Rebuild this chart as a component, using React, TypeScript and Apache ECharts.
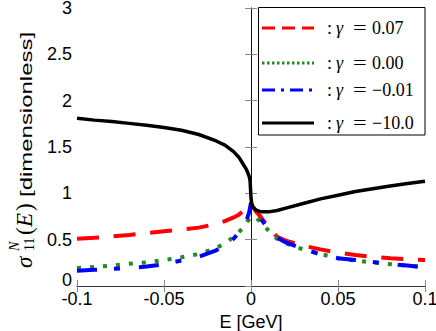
import React, { useEffect, useRef } from "react";
import * as echarts from "echarts";

// Energy grid [GeV]
const E = [-0.1, -0.09, -0.08, -0.07, -0.06, -0.05, -0.04, -0.03, -0.02, -0.015, -0.01, -0.007, -0.005, -0.003, -0.002, -0.001, -0.0005, 0, 0.0005, 0.001, 0.002, 0.003, 0.005, 0.007, 0.01, 0.015, 0.02, 0.03, 0.04, 0.05, 0.06, 0.07, 0.08, 0.09, 0.1];

// sigma_11^N(E) for each gamma
const sigmaG007 = [0.51, 0.52, 0.535, 0.55, 0.57, 0.59, 0.61, 0.63, 0.67, 0.70, 0.74, 0.77, 0.80, 0.83, 0.85, 0.87, 0.88, 0.89, 0.87, 0.86, 0.83, 0.80, 0.76, 0.71, 0.64, 0.53, 0.49, 0.435, 0.395, 0.36, 0.335, 0.315, 0.30, 0.29, 0.28];
const sigmaG000 = [0.195, 0.205, 0.22, 0.24, 0.255, 0.28, 0.31, 0.345, 0.41, 0.46, 0.53, 0.58, 0.62, 0.67, 0.70, 0.72, 0.735, 0.745, 0.75, 0.75, 0.745, 0.735, 0.70, 0.66, 0.60, 0.51, 0.46, 0.395, 0.345, 0.30, 0.275, 0.255, 0.235, 0.22, 0.21];
const sigmaGm001 = [0.165, 0.175, 0.185, 0.195, 0.21, 0.235, 0.275, 0.315, 0.385, 0.44, 0.51, 0.58, 0.63, 0.69, 0.74, 0.80, 0.85, 0.90, 0.87, 0.85, 0.82, 0.79, 0.74, 0.69, 0.61, 0.52, 0.47, 0.40, 0.34, 0.30, 0.28, 0.26, 0.235, 0.22, 0.20];
const sigmaGm10 = [1.81, 1.79, 1.775, 1.755, 1.735, 1.71, 1.68, 1.635, 1.565, 1.52, 1.45, 1.39, 1.33, 1.27, 1.23, 1.18, 1.13, 0.95, 0.88, 0.855, 0.835, 0.82, 0.805, 0.80, 0.80, 0.815, 0.84, 0.89, 0.94, 0.98, 1.02, 1.05, 1.08, 1.105, 1.13];

const gammaLabels = ["0.07", "0.00", "\u22120.01", "\u221210.0"];
const xTicks = [-0.1, -0.05, 0, 0.05, 0.1];
const yTicks = [0, 0.5, 1, 1.5, 2, 2.5, 3];

const SANS = "'Liberation Sans', Arial, sans-serif";
const SERIF = "'Liberation Serif', 'Times New Roman', serif";

export default function App() {
  const ref = useRef<HTMLDivElement>(null);
  useEffect(() => {
    if (!ref.current) return;
    const chart = echarts.init(ref.current, null, { renderer: "svg" });

    const colors = ["#ff0000", "#228b22", "#0000ff", "#000000"];
    const seriesData = [sigmaG007, sigmaG000, sigmaGm001, sigmaGm10];
    const mainDash: any[] = [[22, 14.7], [4, 9], [20, 17, 6, 19], "solid"];
    const mainWidth = [4, 4, 4, 3.5];
    const legDash: any[] = [[13, 7], [2.5, 2.5], [13, 6, 3, 6], "solid"];
    const legY = [28, 63, 90, 123];

    const legendChildren: any[] = [
      {
        type: "rect",
        shape: { x: 258.5, y: 7.5, width: 166.5, height: 127.5 },
        style: { fill: "#fff", stroke: "#000", lineWidth: 1 },
      },
    ];
    legY.forEach((y, i) => {
      legendChildren.push({
        type: "line",
        shape: { x1: 262, y1: y, x2: 314, y2: y },
        style: { stroke: colors[i], lineWidth: 3, lineDash: legDash[i] === "solid" ? null : legDash[i] },
      });
      legendChildren.push({
        type: "text", x: 327, y,
        style: { text: ":", fontSize: 18, fontFamily: SERIF, fill: "#000", verticalAlign: "middle" },
      });
      legendChildren.push({
        type: "text", x: 336, y,
        style: { text: "\u03b3", fontSize: 18, fontStyle: "italic", fontFamily: SERIF, fill: "#000", verticalAlign: "middle" },
      });
      legendChildren.push({
        type: "text", x: 353, y, scaleX: 1.35,
        style: { text: "=", fontSize: 18, fontFamily: SERIF, fill: "#000", verticalAlign: "middle" },
      });
      legendChildren.push({
        type: "text", x: 372, y,
        style: { text: gammaLabels[i], fontSize: 18, fontFamily: SERIF, fill: "#000", verticalAlign: "middle" },
      });
    });

    const yLabel = {
      type: "group",
      x: 32,
      y: 268,
      rotation: Math.PI / 2,
      children: [
        { type: "text", x: 0, y: -7.5, style: { text: "\u03c3", fontSize: 23, fontStyle: "italic", fontFamily: SERIF, fill: "#000", verticalAlign: "middle" } },
        { type: "text", x: 17, y: -18, style: { text: "N", fontSize: 14, fontStyle: "italic", fontFamily: SERIF, fill: "#000", verticalAlign: "middle" } },
        { type: "text", x: 17, y: -3, style: { text: "11", fontSize: 14, fontFamily: SERIF, fill: "#000", verticalAlign: "middle" } },
        { type: "text", x: 33, y: -7.5, style: { text: "(", fontSize: 23, fontFamily: SERIF, fill: "#000", verticalAlign: "middle" } },
        { type: "text", x: 41, y: -7.5, style: { text: "E", fontSize: 23, fontStyle: "italic", fontFamily: SERIF, fill: "#000", verticalAlign: "middle" } },
        { type: "text", x: 57, y: -7.5, style: { text: ")", fontSize: 23, fontFamily: SERIF, fill: "#000", verticalAlign: "middle" } },
        { type: "text", x: 71, y: -6, scaleX: 1.41, style: { text: "[dimensionless]", fontSize: 17, fontFamily: SANS, fill: "#000", verticalAlign: "middle" } },
      ],
    };

    // y-axis "0" label, lifted slightly above its tick as in the reference
    const yZeroLabel = {
      type: "text",
      x: 72,
      y: 280,
      style: { text: String(yTicks[0]), fontSize: 18, lineHeight: 14, fontFamily: SANS, fill: "#000", align: "right", verticalAlign: "middle" },
    };

    const tickStyle = { show: true, inside: true, length: 6, lineStyle: { color: "#888", width: 1 } };

    chart.setOption({
      animation: false,
      grid: { left: 77, right: 11, top: 8, bottom: 45, containLabel: false, outerBoundsMode: "none" },
      xAxis: [
        {
          type: "value", position: "bottom", min: xTicks[0], max: xTicks[xTicks.length - 1], interval: 0.05,
          name: "E [GeV]", nameLocation: "middle", nameGap: 33,
          nameTextStyle: { fontSize: 18, fontFamily: SANS, color: "#000", verticalAlign: "middle" },
          axisLine: { show: true, lineStyle: { color: "#666", width: 1 } },
          axisTick: tickStyle,
          axisLabel: { fontSize: 18, lineHeight: 14, fontFamily: SANS, color: "#000", margin: 6, showMinLabel: true, showMaxLabel: true, hideOverlap: false },
          splitLine: { show: false },
        },
        {
          type: "value", position: "top", min: xTicks[0], max: xTicks[xTicks.length - 1], interval: 0.05,
          axisLine: { show: true, lineStyle: { color: "#333", width: 1 } },
          axisTick: tickStyle,
          axisLabel: { show: false },
          splitLine: { show: false },
        },
      ],
      yAxis: [
        {
          type: "value", position: "left", min: yTicks[0], max: yTicks[yTicks.length - 1], interval: 0.5,
          axisLine: { show: true, lineStyle: { color: "#888", width: 1 } },
          axisTick: tickStyle,
          axisLabel: {
            fontSize: 18, lineHeight: 14, fontFamily: SANS, color: "#000", margin: 5,
            showMinLabel: false,
          },
          splitLine: { show: false },
        },
        {
          type: "value", position: "right", min: yTicks[0], max: yTicks[yTicks.length - 1], interval: 0.5,
          axisLine: { show: true, lineStyle: { color: "#111", width: 1 } },
          axisTick: tickStyle,
          axisLabel: { show: false },
          splitLine: { show: false },
        },
      ],
      series: seriesData.map((vals, i) => ({
        type: "line",
        xAxisIndex: 0,
        yAxisIndex: 0,
        data: E.map((e, j) => [e, vals[j]]),
        showSymbol: false,
        symbol: "none",
        smooth: false,
        lineStyle: { color: colors[i], width: mainWidth[i], type: mainDash[i], cap: "butt" },
        z: 2 + i,
      })),
      graphic: [
        yLabel,
        yZeroLabel,
        { type: "group", z: 100, children: legendChildren },
      ],
    });
    return () => chart.dispose();
  }, []);
  return <div ref={ref} style={{ width: 436, height: 331, position: "absolute", left: 0, top: 0 }} />;
}
